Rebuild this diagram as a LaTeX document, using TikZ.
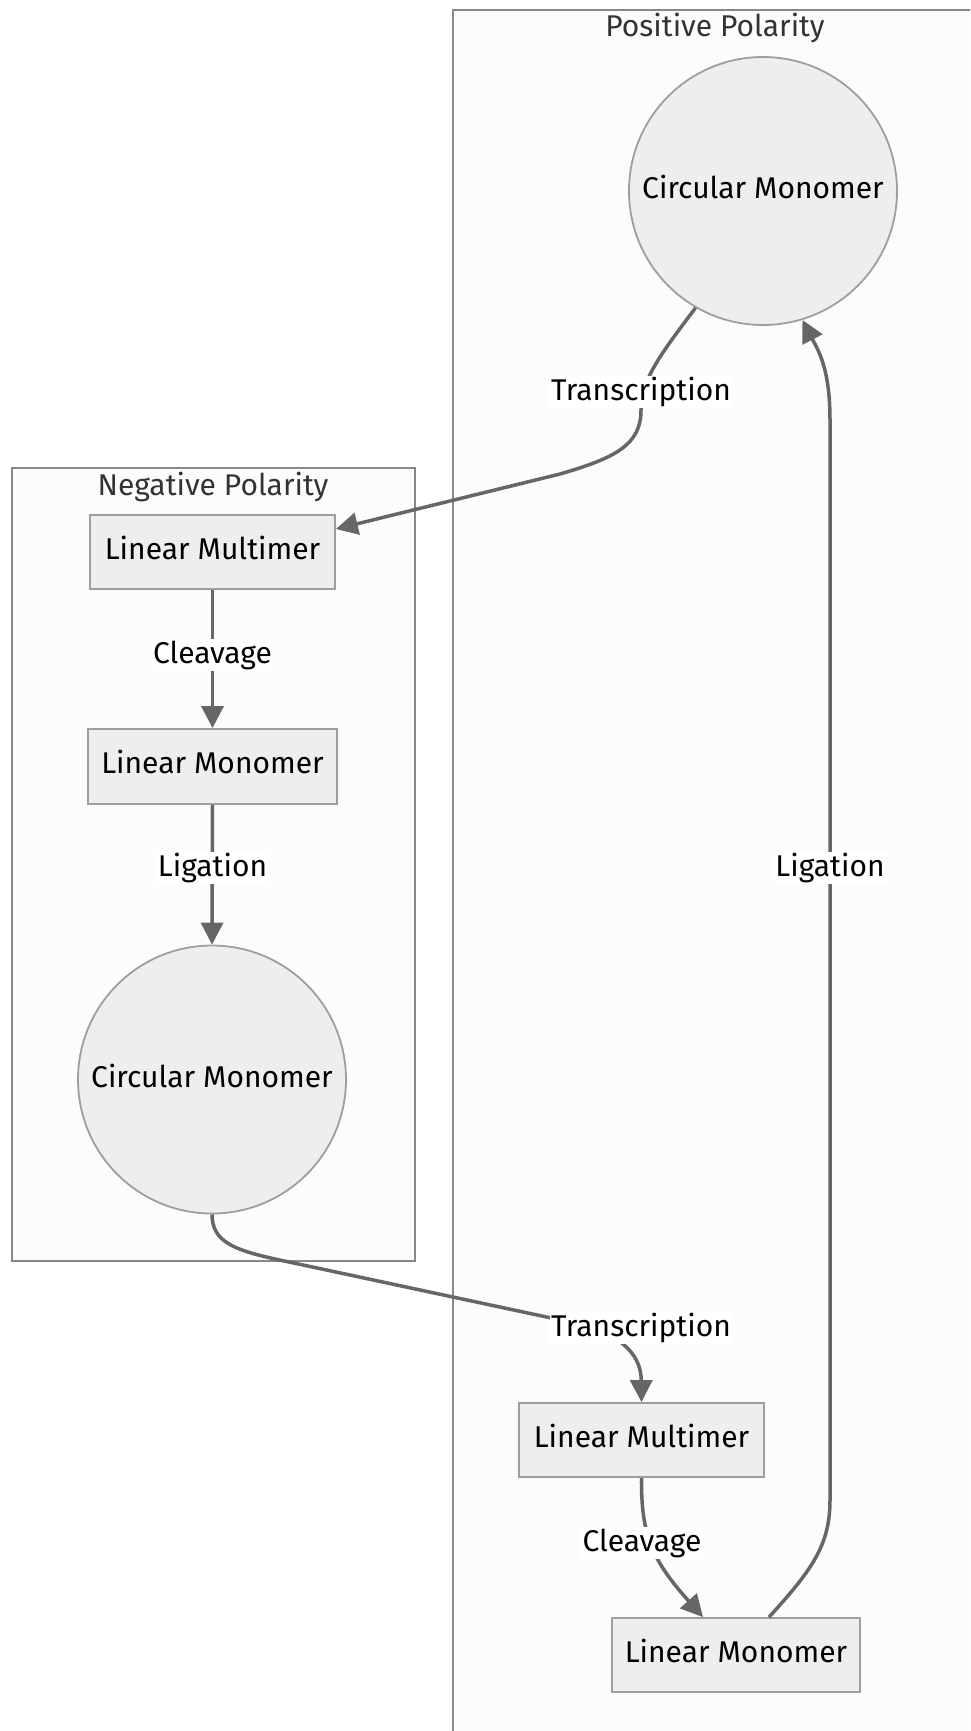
\documentclass[tikz,border=0pt]{standalone}
\usepackage{fontspec}
\setmainfont{Fira Sans}
\usetikzlibrary{arrows.meta}
\definecolor{edgec}{HTML}{666666}
\definecolor{nodeb}{HTML}{9E9E9E}
\definecolor{nodef}{HTML}{EEEEEE}
\definecolor{clb}{HTML}{888888}
\definecolor{clf}{HTML}{FCFCFC}
\definecolor{titc}{HTML}{333333}
\begin{document}
\begin{tikzpicture}[x=1pt,y=-1pt,
  txt/.style={font=\fontsize{30}{35}\selectfont},
  box/.style={txt,draw=nodeb,fill=nodef,line width=1.8pt,minimum width=245pt,minimum height=74pt,inner sep=0pt,text depth=9pt},
  circ/.style={txt,circle,draw=nodeb,fill=nodef,line width=1.8pt,minimum size=268pt,inner sep=0pt,text depth=8pt},
  edge/.style={draw=edgec,line width=3.5pt,-{Triangle[length=22pt,width=22pt]}},
  lbl/.style={txt,fill=white,inner sep=1.5pt},
  cluster/.style={draw=clb,fill=clf,line width=1.6pt,inner sep=0pt,anchor=north west},
  ctitle/.style={txt,text=titc,anchor=base}]
\useasboundingbox (0,0) rectangle (970,1731);
\fill[white] (0,0) rectangle (970,1731);
\clip (0,0) rectangle (970,1731);
% clusters
\node[cluster,minimum width=560pt,minimum height=1760pt] (pc) at (452,9) {};
\node[cluster,minimum width=403pt,minimum height=793pt] (ncl) at (11,467) {};
\node[ctitle] (pct) at (715,37) {Positive Polarity};
\node[ctitle] (nct) at (213,495) {Negative Polarity};
% nodes
\node[circ] (c1) at (763,191) {Circular Monomer};
\node[box] (nm) at (212.5,552) {Linear Multimer};
\node[box,minimum width=249pt,minimum height=75pt] (nmo) at (212.5,766.5) {Linear Monomer};
\node[circ] (nc) at (212,1079.5) {Circular Monomer};
\node[box] (pm) at (641.5,1440) {Linear Multimer};
\node[box,minimum width=248pt] (pmo) at (736,1655) {Linear Monomer};
% edges
\draw[edge] (c1.240) .. controls (660,355) and (641,380) .. (641,410)
  .. controls (641,445) and (615,458) .. (560,474) -- ([yshift=23pt]nm.east);
\draw[edge] (nm.south) -- (nmo.north);
\draw[edge] (nmo.south) -- (nc.north);
\draw[edge] (nc.south) .. controls (212,1242) and (235,1250) .. (275,1259)
  -- (570,1322) .. controls (615,1332) and (641,1350) .. (pm.north);
\draw[edge] (pm.south) .. controls (641,1535) and (652,1560) .. ([xshift=-33pt]pmo.north);
\draw[edge] ([xshift=33pt]pmo.north) .. controls (812,1570) and (830,1545) .. (830,1500)
  -- (830,420) .. controls (830,368) and (818,350) .. (c1.287);
% labels
\node[lbl] (l1) at (641,392) {Transcription};
\node[lbl] (l2) at (212.5,655) {Cleavage};
\node[lbl] (l3) at (212.5,868) {Ligation};
\node[lbl] (l4) at (830,868) {Ligation};
\node[lbl] (l5) at (641,1328) {Transcription};
\node[lbl] (l6) at (642,1543) {Cleavage};
\end{tikzpicture}
\end{document}
